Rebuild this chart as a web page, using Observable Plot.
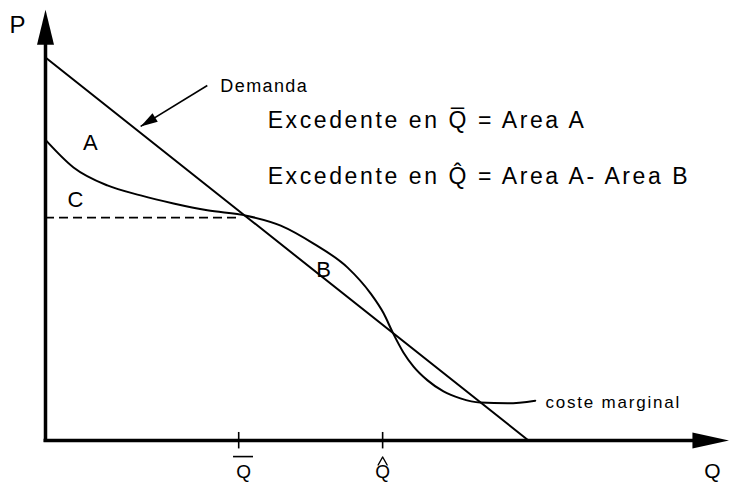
<!DOCTYPE html>
<html>
<head>
<meta charset="utf-8">
<script src="https://cdn.jsdelivr.net/npm/d3@7"></script>
<script src="https://cdn.jsdelivr.net/npm/@observablehq/plot@0.6"></script>
<style>
  html, body { margin: 0; padding: 0; background: #fff; }
  svg { display: block; font-family: "Liberation Sans", Arial, sans-serif; }
</style>
</head>
<body>
<div id="chart"></div>
<script>
// ---- data (Q = quantity, P = price) ----
const demandQ = [0, 10];
const demandP = [10, 0];

const mcQ = [0, 0.58, 1.28, 1.97, 2.65, 3.35, 4.16, 4.87, 5.55, 6.25, 6.73, 7.0, 7.2, 7.41, 7.62, 7.91, 8.24, 8.59, 9.0, 9.57, 10.14];
const mcP = [7.85, 7.13, 6.66, 6.40, 6.19, 6.01, 5.87, 5.61, 5.14, 4.52, 3.84, 3.32, 2.79, 2.30, 1.93, 1.57, 1.28, 1.10, 0.99, 0.97, 1.04];

const priceAtQbar = 5.82;
const dashedEndQ = 4.04;

const tickQ = [4.0, 6.98];           // Q-bar, Q-hat
const tickLabelQ = [4.1, 6.98];
const tickLabels = ["Q", "Q"];
const tickDecor = ["bar", "hat"];

const qAxisEnd = 14.16;   // tip of the Q arrow
const pAxisEnd = 11.25;   // tip of the P arrow

const areaLabels = ["A", "C", "B"];
const areaLabelQ = [0.93, 0.62, 5.76];
const areaLabelP = [7.78, 6.27, 4.44];

const demandArrowFrom = [3.35, 9.27];
const demandArrowTo = [1.97, 8.20];

const textLines = ["Excedente en Q\u0305 = Area A", "Excedente en Q\u0302 = Area A- Area B"];
const textLineQ = [4.6, 4.6];
const textLineP = [8.17, 6.71];

// ---- scales ----
const xDomain = [0, 10], xRange = [45, 528];
const yDomain = [0, 10], yRange = [440, 57];
const pxQ = (xRange[1] - xRange[0]) / (xDomain[1] - xDomain[0]);
const pxP = (yRange[0] - yRange[1]) / (yDomain[1] - yDomain[0]);

function head(len, half) {
  return { draw(ctx) { ctx.moveTo(0, 0); ctx.lineTo(half, len); ctx.lineTo(-half, len); ctx.closePath(); } };
}

const demand = demandQ.map((q, i) => ({q, p: demandP[i]}));
const mc = mcQ.map((q, i) => ({q, p: mcP[i]}));
const ticks = tickQ.map((q, i) => ({q, lq: tickLabelQ[i], label: tickLabels[i], decor: tickDecor[i]}));
const areas = areaLabels.map((t, i) => ({t, q: areaLabelQ[i], p: areaLabelP[i]}));
const lines = textLines.map((t, i) => ({t, q: textLineQ[i], p: textLineP[i]}));

const adx = (demandArrowTo[0] - demandArrowFrom[0]) * pxQ;
const ady = -(demandArrowTo[1] - demandArrowFrom[1]) * pxP;
const arrowAngle = Math.atan2(adx, -ady) * 180 / Math.PI;

const hatHalf = 4.5 / pxQ;
const hatData = ticks.filter(d => d.decor === "hat").flatMap(d => [
  {q: d.lq - hatHalf, p: -0.64, k: d.label}, {q: d.lq, p: -0.43, k: d.label}, {q: d.lq + hatHalf, p: -0.64, k: d.label}
]);
const barHalf = 10 / pxQ;
const barData = ticks.filter(d => d.decor === "bar");

const plot = Plot.plot({
  width: 729,
  height: 484,
  margin: 0,
  x: {domain: xDomain, range: xRange, axis: null},
  y: {domain: yDomain, range: yRange, axis: null},
  style: {fontFamily: "'Liberation Sans', Arial, sans-serif", background: "#fff"},
  marks: [
    // axes
    Plot.ruleX([0], {y1: -0.05, y2: pAxisEnd - 30 / pxP, stroke: "black", strokeWidth: 3.5}),
    Plot.ruleY([0], {x1: -0.03, x2: qAxisEnd - 30 / pxQ, stroke: "black", strokeWidth: 3.5}),
    Plot.dot([{q: 0, p: pAxisEnd}], {x: "q", y: "p", symbol: head(35, 8.5), fill: "black", stroke: "none", r: 5}),
    Plot.dot([{q: qAxisEnd, p: 0}], {x: "q", y: "p", symbol: head(37, 8), fill: "black", stroke: "none", r: 5, rotate: 90}),
    // ticks
    Plot.ruleX(ticks, {x: "q", y1: -0.22, y2: 0.21, stroke: "black", strokeWidth: 1.6}),
    // dashed price line
    Plot.ruleY([priceAtQbar], {x1: 0, x2: dashedEndQ, stroke: "black", strokeWidth: 1.6, strokeDasharray: "9,5"}),
    // demand
    Plot.line(demand, {x: "q", y: "p", stroke: "black", strokeWidth: 2}),
    // marginal cost
    Plot.line(mc, {x: "q", y: "p", stroke: "black", strokeWidth: 2, curve: "monotone-x"}),
    // Demanda pointer
    Plot.link([{x1: demandArrowFrom[0], y1: demandArrowFrom[1], x2: demandArrowTo[0], y2: demandArrowTo[1]}],
      {x1: "x1", y1: "y1", x2: "x2", y2: "y2", stroke: "black", strokeWidth: 1.6}),
    Plot.dot([{q: demandArrowTo[0], p: demandArrowTo[1]}], {x: "q", y: "p", symbol: head(17, 5), fill: "black", stroke: "none", r: 5, rotate: arrowAngle}),
    Plot.text(["Demanda"], {x: 3.62, y: 9.11, text: d => d, textAnchor: "start", lineAnchor: "bottom", fontSize: 18, fill: "black"}),
    // area labels
    Plot.text(areas, {x: "q", y: "p", text: "t", fontSize: 22, fill: "black"}),
    // equations
    Plot.text(lines, {x: "q", y: "p", text: "t", textAnchor: "start", lineAnchor: "bottom", fontSize: 23, fill: "black"}),
    // coste marginal
    Plot.text(["coste marginal"], {x: 10.35, y: 0.86, text: d => d, textAnchor: "start", lineAnchor: "bottom", fontSize: 17, fill: "black"}),
    // axis labels
    Plot.text(["P"], {x: -0.58, y: 10.65, text: d => d, lineAnchor: "bottom", fontSize: 24, fill: "black"}),
    Plot.text(["Q"], {x: 13.81, y: -0.97, text: d => d, lineAnchor: "bottom", fontSize: 21, fill: "black"}),
    Plot.text(ticks, {x: "lq", y: -0.98, text: "label", lineAnchor: "bottom", fontSize: 19, fill: "black"}),
    Plot.ruleY(barData, {y: -0.42, x1: d => d.lq - barHalf, x2: d => d.lq + barHalf, stroke: "black", strokeWidth: 1.6}),
    Plot.line(hatData, {x: "q", y: "p", z: "k", stroke: "black", strokeWidth: 1.4})
  ]
});

d3.select(plot).selectAll("text").each(function () {
  const t = this.textContent;
  if (t.startsWith("Excedente")) this.style.letterSpacing = "2.6px";
  else if (t === "Demanda") this.style.letterSpacing = "1.4px";
  else if (t === "coste marginal") this.style.letterSpacing = "1.8px";
});

document.getElementById("chart").appendChild(plot);
</script>
</body>
</html>
